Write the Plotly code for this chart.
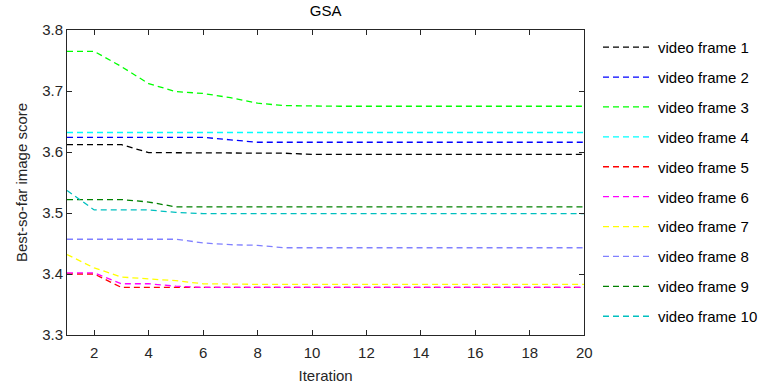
import plotly.graph_objects as go

iterations = list(range(1, 21))

frame1 = [3.612, 3.612, 3.612, 3.599, 3.599, 3.599, 3.599, 3.599, 3.598, 3.596,
          3.596, 3.596, 3.596, 3.596, 3.596, 3.596, 3.596, 3.596, 3.596, 3.596]
frame2 = [3.624, 3.624, 3.624, 3.624, 3.624, 3.624, 3.620, 3.616, 3.616, 3.616,
          3.616, 3.616, 3.616, 3.616, 3.616, 3.616, 3.616, 3.616, 3.616, 3.616]
frame3 = [3.765, 3.765, 3.740, 3.712, 3.699, 3.696, 3.689, 3.680, 3.676, 3.675,
          3.675, 3.675, 3.675, 3.675, 3.675, 3.675, 3.675, 3.675, 3.675, 3.675]
frame4 = [3.632] * 20
frame5 = [3.400, 3.400, 3.378, 3.378, 3.378, 3.378, 3.378, 3.378, 3.378, 3.378,
          3.378, 3.378, 3.378, 3.378, 3.378, 3.378, 3.378, 3.378, 3.378, 3.378]
frame6 = [3.402, 3.402, 3.384, 3.384, 3.380, 3.378, 3.378, 3.378, 3.378, 3.378,
          3.378, 3.378, 3.378, 3.378, 3.378, 3.378, 3.378, 3.378, 3.378, 3.378]
frame7 = [3.432, 3.410, 3.395, 3.392, 3.389, 3.384, 3.383, 3.383, 3.383, 3.383,
          3.383, 3.383, 3.383, 3.383, 3.383, 3.383, 3.383, 3.383, 3.383, 3.383]
frame8 = [3.457, 3.457, 3.457, 3.457, 3.457, 3.451, 3.448, 3.447, 3.443, 3.443,
          3.443, 3.443, 3.443, 3.443, 3.443, 3.443, 3.443, 3.443, 3.443, 3.443]
frame9 = [3.522, 3.522, 3.522, 3.518, 3.510, 3.510, 3.510, 3.510, 3.510, 3.510,
          3.510, 3.510, 3.510, 3.510, 3.510, 3.510, 3.510, 3.510, 3.510, 3.510]
frame10 = [3.537, 3.505, 3.505, 3.505, 3.501, 3.499, 3.499, 3.499, 3.499, 3.499,
           3.499, 3.499, 3.499, 3.499, 3.499, 3.499, 3.499, 3.499, 3.499, 3.499]

series_names = ["video frame 1", "video frame 2", "video frame 3", "video frame 4",
                "video frame 5", "video frame 6", "video frame 7", "video frame 8",
                "video frame 9", "video frame 10"]
series_values = [frame1, frame2, frame3, frame4, frame5, frame6, frame7, frame8,
                 frame9, frame10]
colors = ["#000000", "#0000ff", "#00ff00", "#00ffff", "#ff0000", "#ff00ff",
          "#ffff00", "#8080ff", "#008000", "#00bfbf"]

fig = go.Figure()
for i, (name, vals, col) in enumerate(zip(series_names, series_values, colors)):
    fig.add_trace(go.Scatter(
        x=iterations, y=vals, mode="lines", name=name,
        line=dict(color=col, width=1.3, dash="6px,4px"),
        legendgroup=f"g{i}",
    ))

W, H = 763, 385
ML, MR, MT, MB = 67, 0, 30, 50
plot_w = W - ML - MR
x_end = (585 - ML) / plot_w          # axis ends at x=585 px
legend_x = (599 - ML) / plot_w
title_x = (326 - ML) / plot_w

font_family = "Liberation Sans, Arial, sans-serif"
axis_common = dict(
    showline=True, linecolor="#262626", linewidth=1, mirror="ticks",
    ticks="inside", ticklen=5, tickcolor="#262626",
    showgrid=False, zeroline=False, automargin=False,
    tickfont=dict(size=15, color="#262626", family=font_family),
)

fig.update_layout(
    width=W, height=H,
    margin=dict(l=ML, r=MR, t=MT, b=MB),
    paper_bgcolor="white", plot_bgcolor="white",
    title=dict(text="GSA", x=title_x, xref="paper", xanchor="center", y=0.985, yanchor="top",
               font=dict(size=15, color="#000000", family=font_family)),
    font=dict(family=font_family, color="#262626"),
    xaxis=dict(range=[1, 20], tickvals=list(range(2, 21, 2)), domain=[0, x_end],
               ticklabelstandoff=4,
               title=dict(text="Iteration", standoff=10,
                          font=dict(size=15, color="#262626")),
               **axis_common),
    yaxis=dict(range=[3.3, 3.8], tickvals=[3.3, 3.4, 3.5, 3.6, 3.7, 3.8],
               tickformat=".1f",
               title=dict(text="Best-so-far image score", standoff=10,
                          font=dict(size=15, color="#262626")),
               **axis_common),
    legend=dict(x=legend_x, xanchor="left", y=0.997, yanchor="top",
                font=dict(size=15, color="#000000", family=font_family),
                tracegroupgap=7.4, itemwidth=50,
                bgcolor="rgba(0,0,0,0)", borderwidth=0),
)

fig.write_html("out.html")
